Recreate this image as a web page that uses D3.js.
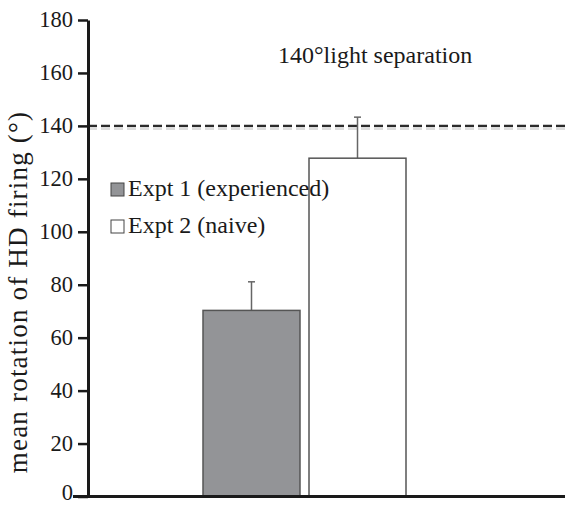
<!DOCTYPE html>
<html>
<head>
<meta charset="utf-8">
<script src="https://cdn.jsdelivr.net/npm/d3@7"></script>
<style>
  body { margin: 0; background: #fff; }
  text { font-family: "Liberation Serif", "Times New Roman", serif; }
</style>
</head>
<body>
<script>
// data
const groups = ["Expt 1 (experienced)", "Expt 2 (naive)"];
const means = [70.3, 127.8];
const errors = [10.8, 15.5];
const fills = ["#939497", "#ffffff"];
const yTicks = [0, 20, 40, 60, 80, 100, 120, 140, 160, 180];
const refValue = 140;
const refLabel = "140°light separation";

const width = 565, height = 506;

const svg = d3.select("body").append("svg")
  .attr("width", width)
  .attr("height", height);

const y = d3.scaleLinear().domain([0, 180]).range([496.5, 20]);
const x = d3.scaleBand().domain(groups).range([203, 406]).paddingInner(0.085);

// reference line (with faint shadow)
svg.append("line")
  .attr("x1", 88).attr("x2", 565)
  .attr("y1", y(refValue) + 2).attr("y2", y(refValue) + 2)
  .attr("stroke", "#cfcfcf").attr("stroke-width", 4)
  .attr("stroke-dasharray", "9,4").attr("opacity", 0.7);
svg.append("line")
  .attr("x1", 88).attr("x2", 565)
  .attr("y1", y(refValue)).attr("y2", y(refValue))
  .attr("stroke", "#2b2b2b").attr("stroke-width", 2.2)
  .attr("stroke-dasharray", "9,4");

// error bars
const eb = svg.selectAll(".err").data(groups).enter().append("g");
eb.append("line")
  .attr("x1", d => x(d) + x.bandwidth() / 2)
  .attr("x2", d => x(d) + x.bandwidth() / 2)
  .attr("y1", (d, i) => y(means[i]))
  .attr("y2", (d, i) => y(means[i] + errors[i]))
  .attr("stroke", "#666").attr("stroke-width", 1.5);
eb.append("line")
  .attr("x1", d => x(d) + x.bandwidth() / 2 - 3.5)
  .attr("x2", d => x(d) + x.bandwidth() / 2 + 3.5)
  .attr("y1", (d, i) => y(means[i] + errors[i]))
  .attr("y2", (d, i) => y(means[i] + errors[i]))
  .attr("stroke", "#666").attr("stroke-width", 1.5);

// bars
svg.selectAll(".bar").data(groups).enter().append("rect")
  .attr("x", d => x(d))
  .attr("y", (d, i) => y(means[i]))
  .attr("width", x.bandwidth())
  .attr("height", (d, i) => y(0) - y(means[i]))
  .attr("fill", (d, i) => fills[i])
  .attr("stroke", "#555").attr("stroke-width", 1.5);

// y axis
const yAxis = svg.append("g")
  .attr("transform", "translate(88,0)")
  .call(d3.axisLeft(y).tickValues(yTicks).tickSize(10).tickPadding(5).tickSizeOuter(0));
yAxis.attr("font-family", null);
yAxis.select(".domain").attr("stroke", "#1a1a1a").attr("stroke-width", 3);
yAxis.selectAll(".tick line").attr("stroke", "#1a1a1a").attr("stroke-width", 2.5);
yAxis.selectAll(".tick text")
  .attr("fill", "#1a1a1a")
  .attr("dy", d => d === 0 ? "0.15em" : "0.3em") // keep the 0 inside the frame
  .style("font-size", "22.5px");

// x axis line
svg.append("line")
  .attr("x1", 73).attr("x2", 565)
  .attr("y1", y(0)).attr("y2", y(0))
  .attr("stroke", "#1a1a1a").attr("stroke-width", 3);

// y axis label
svg.append("text")
  .attr("transform", "translate(27,292) rotate(-90)")
  .attr("text-anchor", "middle")
  .attr("fill", "#1a1a1a")
  .style("font-size", "27px")
  .style("letter-spacing", "1.2px")
  .text("mean rotation of HD firing (°)");

// reference label
svg.append("text")
  .attr("x", 278).attr("y", 63)
  .attr("fill", "#1a1a1a")
  .style("font-size", "24px")
  .text(refLabel);

// legend
const leg = svg.selectAll(".leg").data(groups).enter().append("g")
  .attr("transform", (d, i) => `translate(111,${183 + i * 37})`);
leg.append("rect")
  .attr("width", 13).attr("height", 13)
  .attr("fill", (d, i) => fills[i])
  .attr("stroke", "#444").attr("stroke-width", 1);
leg.append("text")
  .attr("x", 17).attr("y", 12.5)
  .attr("fill", "#1a1a1a")
  .style("font-size", "24px")
  .text(d => d);
</script>
</body>
</html>
